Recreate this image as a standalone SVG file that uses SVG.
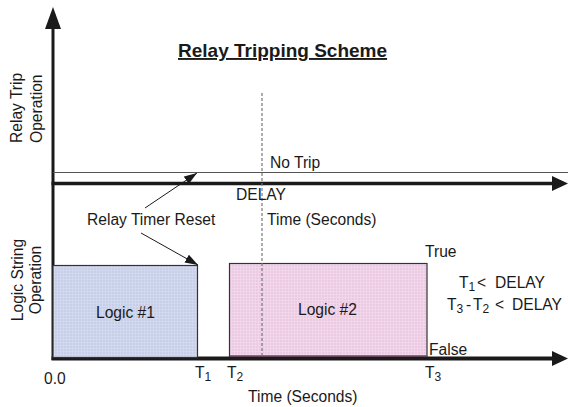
<svg xmlns="http://www.w3.org/2000/svg" width="568" height="407" viewBox="0 0 568 407">
  <style>
    text { font-family: "Liberation Sans", Arial, sans-serif; font-size: 15.6px; fill: #1a1a1a; }
    .title { font-size: 19px; font-weight: bold; text-decoration: underline; }
    .sub { font-size: 12px; }
    .axis { stroke: #1a1a1a; fill: none; }
    .thin { stroke: #555; stroke-width: 1; fill: none; }
    .dash { stroke: #777; stroke-width: 1.2; stroke-dasharray: 3 2; fill: none; }
    .ptr { stroke: #1a1a1a; stroke-width: 1; fill: none; }
    .blk { stroke: #333; stroke-width: 1.2; }
  </style>
  <defs>
    <marker id="head-v" markerUnits="userSpaceOnUse" markerWidth="22" markerHeight="16" refX="0" refY="8" orient="auto" viewBox="0 0 22 16">
      <path d="M0,0 L22,8 L0,16 z" fill="#1a1a1a"/>
    </marker>
    <marker id="head-h" markerUnits="userSpaceOnUse" markerWidth="16" markerHeight="15" refX="0" refY="7.5" orient="auto" viewBox="0 0 16 15">
      <path d="M0,0 L16,7.5 L0,15 z" fill="#1a1a1a"/>
    </marker>
    <marker id="head-s" markerUnits="userSpaceOnUse" markerWidth="13" markerHeight="9" refX="13" refY="4.5" orient="auto" viewBox="0 0 13 9">
      <path d="M0,0 L13,4.5 L0,9 z" fill="#1a1a1a"/>
    </marker>
    <pattern id="grid-blue" width="3" height="3" patternUnits="userSpaceOnUse">
      <rect width="3" height="3" fill="#c6cee8"/>
      <path d="M0,0.5 H3 M0.5,0 V3" stroke="#d2d8ee" stroke-width="1"/>
    </pattern>
    <pattern id="grid-pink" width="3" height="3" patternUnits="userSpaceOnUse">
      <rect width="3" height="3" fill="#ecc9e2"/>
      <path d="M0,0.5 H3 M0.5,0 V3" stroke="#f2d6ea" stroke-width="1"/>
    </pattern>
  </defs>

  <text class="title" x="178" y="57">Relay Tripping Scheme</text>

  <!-- axes -->
  <g id="axes">
    <line class="axis" x1="53" y1="360" x2="53" y2="29" stroke-width="3" marker-end="url(#head-v)"/>
    <line class="thin" x1="53" y1="172.5" x2="568" y2="172.5"/>
    <line class="axis" x1="51.5" y1="183.5" x2="552" y2="183.5" stroke-width="3.5" marker-end="url(#head-h)"/>
    <line class="axis" x1="51.5" y1="358.5" x2="552" y2="358.5" stroke-width="4" marker-end="url(#head-h)"/>
  </g>

  <g id="logic1">
    <rect class="blk" x="53" y="265.5" width="144.5" height="92" fill="url(#grid-blue)"/>
    <text x="96" y="318">Logic #1</text>
  </g>

  <g id="logic2">
    <rect class="blk" x="229.5" y="263.5" width="197.5" height="93" fill="url(#grid-pink)"/>
    <line x1="230" y1="356" x2="427" y2="356" stroke="#7a4a6a" stroke-width="1.5"/>
    <text x="298" y="315">Logic #2</text>
  </g>

  <line id="delay-mark" class="dash" x1="262" y1="93" x2="262" y2="358"/>

  <g id="connectors">
    <line class="ptr" x1="145" y1="208" x2="197" y2="173" marker-end="url(#head-s)"/>
    <line class="ptr" x1="141" y1="233" x2="198" y2="265" marker-end="url(#head-s)"/>
  </g>

  <!-- axis labels -->
  <text transform="translate(22,143) rotate(-90)">Relay Trip</text>
  <text transform="translate(42,143) rotate(-90)">Operation</text>
  <text transform="translate(23,280) rotate(-90)" text-anchor="middle">Logic String</text>
  <text transform="translate(41,280) rotate(-90)" text-anchor="middle">Operation</text>

  <text x="270" y="168">No Trip</text>
  <text x="236" y="200">DELAY</text>
  <text x="87" y="225">Relay Timer Reset</text>
  <text x="267" y="225">Time (Seconds)</text>
  <text x="425" y="257">True</text>
  <text x="429" y="355">False</text>

  <!-- timing conditions -->
  <text x="459" y="288">T<tspan class="sub" dy="3">1</tspan><tspan x="477" dy="-3">&lt;</tspan><tspan x="495">DELAY</tspan></text>
  <text x="447" y="310">T<tspan class="sub" dy="3">3</tspan><tspan x="466" dy="-3">-</tspan><tspan x="473">T</tspan><tspan class="sub" dy="3">2</tspan><tspan x="495" dy="-3">&lt;</tspan><tspan x="512">DELAY</tspan></text>

  <text x="44" y="384">0.0</text>
  <text x="195" y="378">T<tspan class="sub" dy="3">1</tspan></text>
  <text x="227" y="378">T<tspan class="sub" dy="3">2</tspan></text>
  <text x="425" y="378">T<tspan class="sub" dy="3">3</tspan></text>
  <text x="248" y="402">Time (Seconds)</text>
</svg>
